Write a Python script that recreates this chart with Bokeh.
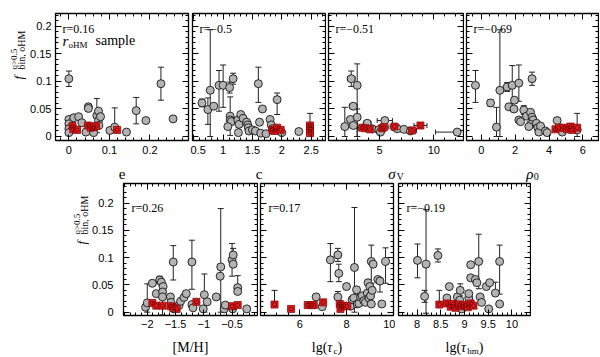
import math
from bokeh.plotting import figure
from bokeh.models import (ColumnDataSource, Whisker, TeeHead, LinearAxis,
                          SingleIntervalTicker, CustomJSTickFormatter, Label, Range1d)
from bokeh.layouts import row, column
from bokeh.embed import file_html
from bokeh.resources import INLINE

# ---------------- data ----------------
# panel: e
E_X = [0.000, 0.000, 0.000, 0.000, 0.000, 0.012, 0.024, 0.032, 0.042, 0.048, 0.048, 0.061, 0.069, 0.073, 0.073, 0.074, 0.078, 0.101, 0.113, 0.142, 0.166, 0.190, 0.227, 0.257]
E_Y = [0.105, 0.031, 0.023, 0.014, 0.007, 0.034, 0.036, 0.025, 0.008, 0.054, 0.051, 0.007, 0.038, 0.046, 0.029, 0.020, 0.036, 0.011, 0.017, 0.008, 0.047, 0.029, 0.096, 0.032]
E_LO = [0.014, 0, 0, 0, 0, 0, 0, 0, 0, 0.004, 0, 0, 0.031, 0, 0, 0, 0, 0, 0.010, 0.004, 0.024, 0, 0.030, 0.005]
E_HI = [0.014, 0, 0, 0, 0, 0, 0, 0, 0, 0.004, 0, 0, 0.031, 0, 0, 0, 0, 0, 0.035, 0.004, 0.024, 0, 0.030, 0.005]
E_RX = [0.009, 0.011, 0.020, 0.047, 0.054, 0.061, 0.067, 0.119]
E_RY = [0.019, 0.013, 0.012, 0.020, 0.016, 0.017, 0.019, 0.012]

# panel: c
C_X = [0.64, 0.74, 0.78, 0.84, 0.93, 1.00, 1.11, 1.17, 1.12, 1.12, 1.14, 1.08, 1.25, 1.27, 1.30, 1.26, 1.34, 1.40, 1.42, 1.43, 1.44, 1.50, 1.55, 1.62, 1.60, 1.67, 1.64, 1.73, 1.80, 1.82, 1.84, 1.92, 2.00, 2.29]
C_Y = [0.061, 0.049, 0.084, 0.055, 0.093, 0.093, 0.089, 0.105, 0.037, 0.030, 0.027, 0.018, 0.030, 0.022, 0.040, 0.007, 0.033, 0.026, 0.021, 0.016, 0.010, 0.012, 0.010, 0.026, 0.096, 0.050, 0.006, 0.005, 0.031, 0.021, 0.014, 0.067, 0.007, 0.009]
C_LO = [0.007, 0.027, 0.084, 0.005, 0.047, 0.040, 0.010, 0.010, 0.035, 0, 0, 0, 0, 0, 0, 0, 0, 0, 0, 0, 0, 0, 0, 0, 0.034, 0.005, 0, 0, 0, 0, 0, 0.027, 0, 0]
C_HI = [0.007, 0.021, 0.110, 0.005, 0.027, 0.037, 0.010, 0.010, 0.035, 0, 0, 0, 0, 0, 0, 0, 0, 0, 0, 0, 0, 0, 0, 0, 0.030, 0.005, 0, 0, 0, 0, 0, 0.012, 0, 0]
C_RX = [1.84, 1.87, 1.92, 1.98, 2.48, 2.48, 2.48, 2.48]
C_RY = [0.012, 0.010, 0.016, 0.012, 0.020, 0.015, 0.010, 0.006]
C_RLO = [0, 0, 0, 0, 0, 0, 0, 0]
C_RHI = [0, 0, 0, 0, 0.022, 0, 0, 0]

# panel: sigma_V (with x errors)
S_X = [2.40, 2.95, 2.58, 2.33, 2.95, 1.81, 2.60, 3.87, 4.33, 4.94, 5.09, 5.49, 6.63, 7.24, 7.85, 12.15]
S_Y = [0.105, 0.093, 0.055, 0.031, 0.035, 0.018, 0.020, 0.024, 0.014, 0.012, 0.008, 0.029, 0.014, 0.013, 0.010, 0.008]
S_LO = [0.014, 0.093, 0, 0, 0.035, 0.018, 0, 0, 0, 0, 0, 0, 0, 0, 0, 0]
S_HI = [0.014, 0.039, 0, 0, 0.015, 0.035, 0, 0, 0, 0, 0, 0, 0, 0, 0, 0]
S_XLO = [0.35, 0.15, 0.35, 0.30, 0.20, 0.30, 0.30, 0.35, 0.30, 0.30, 0.30, 0.70, 0.40, 0.40, 0.40, 2.00]
S_XHI = [0.35, 0.15, 0.35, 0.30, 0.20, 0.30, 0.30, 0.35, 0.30, 0.30, 0.30, 0.70, 0.40, 0.40, 0.40, 0.30]
S_RX = [3.41, 3.71, 4.11, 5.25, 5.40, 6.38, 8.00, 8.77]
S_RY = [0.016, 0.015, 0.013, 0.015, 0.017, 0.018, 0.011, 0.020]
S_RXLO = [0.40, 0.30, 0.30, 0.40, 0.40, 0.40, 0.40, 0.60]
S_RXHI = [0.40, 0.30, 0.30, 0.40, 0.40, 0.40, 0.40, 0.60]

# panel: rho_0
R_X = [-0.34, 0.55, 0.90, 1.10, 1.53, 1.83, 1.63, 1.93, 1.96, 2.22, 2.22, 2.32, 2.51, 2.67, 3.00, 2.91, 3.00, 3.06, 2.91, 2.81, 3.26, 3.34, 3.40, 3.50, 3.79, 3.89, 4.48, 4.78, 5.66]
R_Y = [0.093, 0.061, 0.017, 0.084, 0.090, 0.093, 0.054, 0.050, 0.066, 0.097, 0.030, 0.027, 0.048, 0.037, 0.105, 0.044, 0.035, 0.030, 0.022, 0.018, 0.024, 0.016, 0.008, 0.019, 0.010, 0.007, 0.029, 0.008, 0.012]
R_LO = [0.031, 0.006, 0.017, 0.084, 0.008, 0.042, 0, 0, 0, 0.033, 0, 0, 0.008, 0, 0.012, 0, 0, 0, 0, 0, 0, 0, 0, 0, 0, 0, 0, 0, 0.012]
R_HI = [0.027, 0.006, 0.036, 0.110, 0.008, 0.036, 0, 0, 0, 0.033, 0, 0, 0.008, 0, 0.012, 0, 0, 0, 0, 0, 0, 0, 0, 0, 0, 0, 0, 0, 0.030]
R_RX = [4.38, 4.58, 4.87, 5.07, 5.27, 5.37, 5.66]
R_RY = [0.013, 0.016, 0.016, 0.013, 0.018, 0.012, 0.016]

# panel: [M/H]
M_X = [-2.03, -2.00, -1.91, -1.84, -1.78, -1.75, -1.72, -1.73, -1.73, -1.59, -1.58, -1.54, -1.53, -1.44, -1.41, -1.35, -1.31, -1.21, -1.21, -1.19, -1.01, -0.99, -0.94, -0.78, -0.71, -0.70, -0.64, -0.62, -0.50, -0.48, -0.48, -0.49, -0.40, -0.40, -0.24]
M_Y = [0.009, 0.017, 0.053, 0.034, 0.059, 0.055, 0.047, 0.037, 0.028, 0.028, 0.018, 0.092, 0.006, 0.012, 0.020, 0.027, 0.034, 0.092, 0.014, 0.008, 0.006, 0.032, 0.019, 0.028, 0.066, 0.083, 0.006, 0.013, 0.096, 0.105, 0.088, 0.006, 0.045, 0.038, 0.006]
M_LO = [0, 0.017, 0, 0, 0.007, 0, 0, 0, 0.033, 0, 0, 0.033, 0, 0, 0, 0, 0, 0.050, 0, 0, 0, 0.032, 0, 0, 0, 0.083, 0, 0, 0.030, 0.012, 0, 0, 0.010, 0, 0]
M_HI = [0, 0.035, 0, 0, 0.007, 0, 0, 0, 0, 0, 0, 0.030, 0, 0, 0, 0, 0, 0.040, 0, 0, 0, 0.038, 0, 0, 0, 0.107, 0, 0, 0.030, 0.012, 0, 0, 0.022, 0, 0]
M_RX = [-1.91, -1.84, -1.73, -1.59, -1.54, -1.48, -1.13, -0.50, -0.40]
M_RY = [0.017, 0.012, 0.012, 0.011, 0.008, 0.006, 0.019, 0.011, 0.013]

# panel: lg(tau_c)
T_X = [6.70, 6.96, 7.31, 7.63, 7.67, 7.63, 8.00, 8.17, 8.24, 8.31, 8.34, 8.43, 8.46, 8.53, 8.60, 8.67, 8.74, 8.81, 8.89, 8.96, 8.92, 9.03, 9.00, 9.06, 9.14, 9.10, 9.06, 9.34, 9.43, 9.51, 9.67]
T_Y = [0.028, 0.010, 0.096, 0.105, 0.071, 0.028, 0.047, 0.011, 0.023, 0.026, 0.082, 0.041, 0.015, 0.016, 0.028, 0.030, 0.021, 0.018, 0.035, 0.026, 0.054, 0.030, 0.047, 0.093, 0.088, 0.040, 0.015, 0.060, 0.057, 0.015, 0.093]
T_LO = [0, 0, 0.040, 0.012, 0.015, 0, 0, 0, 0, 0, 0.082, 0, 0, 0, 0, 0, 0, 0, 0, 0, 0, 0, 0, 0.040, 0, 0, 0, 0, 0.020, 0, 0.040]
T_HI = [0, 0, 0.030, 0.012, 0.017, 0.010, 0, 0, 0, 0, 0.110, 0, 0, 0, 0, 0, 0, 0, 0, 0, 0, 0, 0, 0.030, 0, 0, 0, 0, 0.006, 0, 0.025]
T_RX = [4.92, 5.63, 6.34, 6.50, 6.60, 7.00, 7.71, 7.77, 7.74, 7.88, 8.03]
T_RY = [0.014, 0.006, 0.013, 0.013, 0.013, 0.018, 0.015, 0.011, 0.006, 0.012, 0.011]
T_RLO = [0, 0, 0, 0, 0, 0, 0, 0, 0, 0, 0]
T_RHI = [0.026, 0, 0, 0, 0, 0, 0, 0, 0, 0, 0]

# panel: lg(tau_hm)
H_X = [8.01, 8.16, 8.19, 8.44, 8.68, 8.63, 8.85, 8.90, 8.91, 8.94, 8.98, 9.09, 9.09, 9.13, 9.13, 9.23, 9.26, 9.30, 9.33, 9.36, 9.46, 9.53, 9.51, 9.65, 9.74, 9.74]
H_Y = [0.095, 0.029, 0.088, 0.104, 0.047, 0.026, 0.028, 0.022, 0.040, 0.006, 0.012, 0.026, 0.034, 0.063, 0.087, 0.060, 0.054, 0.093, 0.028, 0.018, 0.047, 0.054, 0.006, 0.035, 0.093, 0.015]
H_LO = [0.032, 0.011, 0.090, 0.012, 0, 0, 0, 0, 0.010, 0, 0, 0, 0, 0, 0, 0, 0, 0.050, 0, 0, 0, 0, 0, 0, 0.060, 0]
H_HI = [0.030, 0.011, 0.100, 0.012, 0, 0, 0, 0, 0.012, 0, 0, 0, 0, 0, 0, 0, 0, 0.050, 0, 0, 0, 0, 0, 0.020, 0.030, 0]
H_RX = [8.47, 8.63, 8.71, 8.77, 8.81, 8.88, 8.95, 9.01, 9.07, 9.13, 9.19]
H_RY = [0.014, 0.016, 0.010, 0.015, 0.008, 0.014, 0.011, 0.013, 0.009, 0.016, 0.012]
H_RLO = [0, 0, 0, 0, 0, 0, 0, 0, 0, 0, 0]
H_RHI = [0.026, 0, 0, 0, 0, 0, 0, 0, 0, 0, 0]

R_VALUES = ["r=0.16", "r=\u22120.5", "r=\u22120.51", "r=\u22120.69", "r=0.26", "r=0.17", "r=\u22120.19"]

# ---------------- styling helpers ----------------
SERIF = "Liberation Serif"
SANS = "Liberation Sans"
GRAY_FILL = "#b3b3b3"
EDGE = "#151515"
RED = "#e01e1e"
ERR = "#222222"
TICK_FONT = "11px"

FMT = CustomJSTickFormatter(code="""
const s = Number(tick.toFixed(4)).toString();
return s.replace('-', '\u2212');
""")
BLANK = CustomJSTickFormatter(code="return '';")

CW = {'e': 0.444, 'c': 0.444, '\u03c3': 0.55, 'V': 0.722, '\u03c1': 0.5, '0': 0.5, '[': 0.333, ']': 0.333,
      'M': 0.889, '/': 0.278, 'H': 0.722, 'l': 0.278, 'g': 0.5, '(': 0.333, ')': 0.333, '\u03c4': 0.45,
      'h': 0.5, 'm': 0.778}


def tw(s, size):
    return sum(CW.get(ch, 0.5) for ch in s) * size


def make_fig(ml, fw, mr, mt, fh, mb, xr, yr):
    p = figure(width=ml + fw + mr, height=mt + fh + mb, x_range=Range1d(*xr), y_range=Range1d(*yr),
               x_axis_type=None, y_axis_type=None, output_backend="svg",
               toolbar_location=None, title=None, title_location=None,
               min_border_left=ml, min_border_right=mr,
               min_border_top=mt, min_border_bottom=mb)
    p.outline_line_color = "black"
    p.outline_line_width = 1.3
    p.background_fill_color = "white"
    p.border_fill_color = "white"
    return p


def make_strip(w, h):
    s = figure(width=w, height=h, x_range=Range1d(0, w), y_range=Range1d(0, h),
               x_axis_type=None, y_axis_type=None, output_backend="svg",
               toolbar_location=None, title=None, title_location=None, min_border=0,
               min_border_left=0, min_border_right=0, min_border_top=0, min_border_bottom=0)
    s.outline_line_color = None
    s.background_fill_color = "white"
    s.border_fill_color = "white"
    return s


def add_axes(p, xint, xminor, yint, yminor, ylabels, xstand, ystand):
    specs = [("below", xint, xminor, True, xstand), ("above", xint, xminor, False, 0),
             ("left", yint, yminor, ylabels, ystand), ("right", yint, yminor, False, 0)]
    for loc, interval, minor, show, stand in specs:
        ax = LinearAxis(ticker=SingleIntervalTicker(interval=interval, num_minor_ticks=minor),
                        formatter=FMT if show else BLANK, axis_line_color=None,
                        major_tick_in=6, major_tick_out=0, minor_tick_in=3, minor_tick_out=0,
                        major_tick_line_color="black", minor_tick_line_color="black",
                        major_tick_line_width=1, minor_tick_line_width=1,
                        major_label_text_font=SANS,
                        major_label_text_font_size=TICK_FONT if show else "0px",
                        major_label_text_color="black" if show else None,
                        major_label_standoff=stand if show else 0)
        p.add_layout(ax, loc)


def add_yerr(p, xs, ys, lo, hi):
    idx = [i for i in range(len(xs)) if lo[i] > 0 or hi[i] > 0]
    if not idx:
        return
    src = ColumnDataSource(dict(x=[xs[i] for i in idx],
                                lower=[ys[i] - lo[i] for i in idx],
                                upper=[ys[i] + hi[i] for i in idx]))
    p.add_layout(Whisker(source=src, base="x", lower="lower", upper="upper", dimension="height",
                         line_color=ERR, line_width=1,
                         lower_head=TeeHead(size=6, line_color=ERR, line_width=1),
                         upper_head=TeeHead(size=6, line_color=ERR, line_width=1)))


def add_xerr(p, xs, ys, lo, hi):
    src = ColumnDataSource(dict(y=list(ys),
                                lower=[xs[i] - lo[i] for i in range(len(xs))],
                                upper=[xs[i] + hi[i] for i in range(len(xs))]))
    p.add_layout(Whisker(source=src, base="y", lower="lower", upper="upper", dimension="width",
                         line_color=ERR, line_width=1,
                         lower_head=TeeHead(size=5, line_color=ERR, line_width=1),
                         upper_head=TeeHead(size=5, line_color=ERR, line_width=1)))


def add_points(p, xs, ys, rxs, rys):
    p.scatter(xs, ys, marker="circle", size=8, fill_color=GRAY_FILL, line_color=EDGE, line_width=0.9)
    p.scatter(rxs, rys, marker="square", size=7, fill_color=RED, line_color="#8a0000", line_width=0.8)
    p.scatter(rxs, rys, marker="circle", size=4, fill_color=None, line_color="#6a0000", line_width=0.7)


def add_label(p, x, y, text, size, style="normal", angle=0.0):
    p.add_layout(Label(x=x, y=y, x_units="screen", y_units="screen", text=text,
                       text_font=SERIF, text_font_size=f"{size}px", text_font_style=style,
                       text_color="black", text_align="left", text_baseline="alphabetic",
                       angle=angle))


def hlabel(p, pieces, x_center, y_base):
    total = sum(tw(t, s) for t, s, st, dy in pieces)
    x = x_center - total / 2
    for t, s, st, dy in pieces:
        add_label(p, x, y_base + dy, t, s, st)
        x += tw(t, s)


def ytitle(p, xf, yf):
    # rotated  f^{q>0.5}_{bin, oHM}
    add_label(p, xf, yf, "f", 13, "italic", math.pi / 2)
    add_label(p, xf - 5, yf + 10, "q>0.5", 9, "normal", math.pi / 2)
    add_label(p, xf + 3, yf + 10, "bin, oHM", 10, "normal", math.pi / 2)


# ---------------- layout geometry (Bokeh's page template has no body margin) ----------------
TOP_MT, TOP_FH, TOP_MB = 13, 127, 18       # frames y 13..140, row ends 158
TOP_H = TOP_MT + TOP_FH + TOP_MB
XS_TOP_H = 24                               # title strip 158..182
BOT_MT, BOT_FH, BOT_MB = 1, 132, 17         # frames y 183..315, row ends 332
BOT_H = BOT_MT + BOT_FH + BOT_MB
XS_BOT_H = 24                               # title strip 332..356
YR_TOP = (-0.0073, 0.2236)
YR_BOT = (-0.0061, 0.236)
PAGE_W = 599

# ---------------- top row ----------------
ys_top = make_strip(26, TOP_H)
ytitle(ys_top, 18, 61)

p1 = make_fig(29, 133, 2, TOP_MT, TOP_FH, TOP_MB, (-0.033, 0.295), YR_TOP)   # frame x 55..188
add_axes(p1, 0.1, 5, 0.05, 5, True, 5, 4)
add_yerr(p1, E_X, E_Y, E_LO, E_HI)
add_points(p1, E_X, E_Y, E_RX, E_RY)
add_label(p1, 7, TOP_FH - 15, R_VALUES[0], 12)
add_label(p1, 7, TOP_FH - 27, "r", 15, "italic")
add_label(p1, 13, TOP_FH - 31, "oHM", 9)
add_label(p1, 40, TOP_FH - 27, "sample", 14)

p2 = make_fig(2, 133, 1, TOP_MT, TOP_FH, TOP_MB, (0.478, 2.744), YR_TOP)     # frame x 192..325
add_axes(p2, 0.5, 5, 0.05, 5, False, 5, 4)
add_yerr(p2, C_X, C_Y, C_LO, C_HI)
add_yerr(p2, C_RX, C_RY, C_RLO, C_RHI)
add_points(p2, C_X, C_Y, C_RX, C_RY)
add_label(p2, 7, TOP_FH - 15, R_VALUES[1], 12)

p3 = make_fig(2, 135, 1, TOP_MT, TOP_FH, TOP_MB, (0.31, 12.73), YR_TOP)      # frame x 328..463
add_axes(p3, 5, 5, 0.05, 5, False, 5, 4)
add_xerr(p3, S_X, S_Y, S_XLO, S_XHI)
add_xerr(p3, S_RX, S_RY, S_RXLO, S_RXHI)
add_yerr(p3, S_X, S_Y, S_LO, S_HI)
add_points(p3, S_X, S_Y, S_RX, S_RY)
add_label(p3, 7, TOP_FH - 15, R_VALUES[2], 12)

p4 = make_fig(2, 132, 1, TOP_MT, TOP_FH, TOP_MB, (-0.87, 6.92), YR_TOP)      # frame x 466..598
add_axes(p4, 2, 4, 0.05, 5, False, 5, 4)
add_yerr(p4, R_X, R_Y, R_LO, R_HI)
add_points(p4, R_X, R_Y, R_RX, R_RY)
add_label(p4, 7, TOP_FH - 15, R_VALUES[3], 12)

xs_top = make_strip(PAGE_W, XS_TOP_H)
TB = 9
hlabel(xs_top, [("e", 15, "normal", 0)], 121.5, TB)
hlabel(xs_top, [("c", 15, "normal", 0)], 258.5, TB)
hlabel(xs_top, [("\u03c3", 15, "italic", 0), ("V", 10, "normal", -3)], 395.5, TB)
hlabel(xs_top, [("\u03c1", 15, "italic", 0), ("0", 10, "normal", -3)], 532, TB)

# ---------------- bottom row ----------------
ys_bot = make_strip(89, BOT_H)
ytitle(ys_bot, 81, 71)

b1 = make_fig(34, 134, 1, BOT_MT, BOT_FH, BOT_MB, (-2.42, -0.05), YR_BOT)    # frame x 123..257
add_axes(b1, 0.5, 5, 0.05, 5, True, 4, 10)
add_yerr(b1, M_X, M_Y, M_LO, M_HI)
add_points(b1, M_X, M_Y, M_RX, M_RY)
add_label(b1, 8, BOT_FH - 24, R_VALUES[4], 12)

b2 = make_fig(2, 133, 2, BOT_MT, BOT_FH, BOT_MB, (4.32, 10.01), YR_BOT)      # frame x 260..393
add_axes(b2, 2, 4, 0.05, 5, False, 4, 4)
add_yerr(b2, T_X, T_Y, T_LO, T_HI)
add_yerr(b2, T_RX, T_RY, T_RLO, T_RHI)
add_points(b2, T_X, T_Y, T_RX, T_RY)
add_label(b2, 8, BOT_FH - 24, R_VALUES[5], 12)

b3 = make_fig(3, 132, 1, BOT_MT, BOT_FH, BOT_MB, (7.61, 10.39), YR_BOT)      # frame x 398..530
add_axes(b3, 0.5, 5, 0.05, 5, False, 4, 4)
add_yerr(b3, H_X, H_Y, H_LO, H_HI)
add_yerr(b3, H_RX, H_RY, H_RLO, H_RHI)
add_points(b3, H_X, H_Y, H_RX, H_RY)
add_label(b3, 8, BOT_FH - 24, R_VALUES[6], 12)

xs_bot = make_strip(PAGE_W, XS_BOT_H)
BB = 9
hlabel(xs_bot, [("[M/H]", 14, "normal", 0)], 190, BB)
hlabel(xs_bot, [("lg(", 14, "normal", 0), ("\u03c4", 14, "italic", 0), ("c", 9, "normal", -3),
                (")", 14, "normal", 0)], 326.5, BB)
hlabel(xs_bot, [("lg(", 14, "normal", 0), ("\u03c4", 14, "italic", 0), ("hm", 9, "normal", -3),
                (")", 14, "normal", 0)], 464, BB)

layout = column(row(ys_top, p1, p2, p3, p4), xs_top, row(ys_bot, b1, b2, b3), xs_bot)

with open("out.html", "w") as fh:
    fh.write(file_html(layout, INLINE))
